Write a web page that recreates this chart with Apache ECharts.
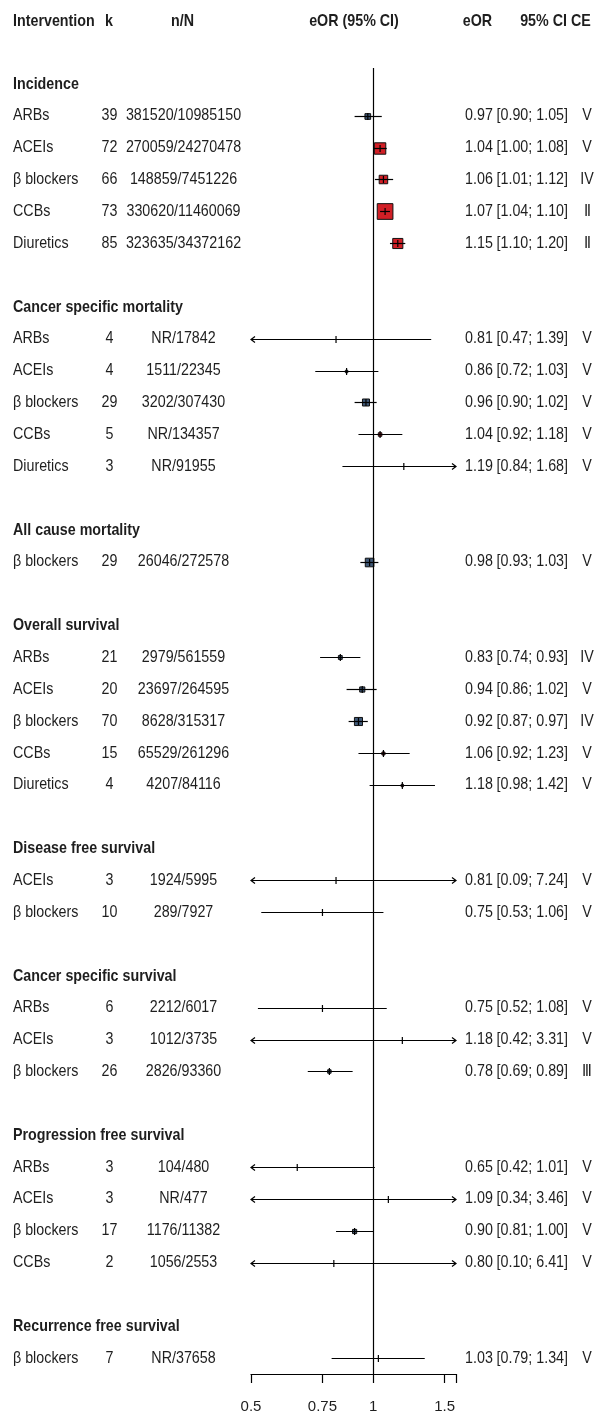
<!DOCTYPE html>
<html><head><meta charset="utf-8">
<script src="https://cdn.jsdelivr.net/npm/echarts@6/dist/echarts.min.js"></script>
<style>html,body{margin:0;padding:0;background:#fff}#c{width:597px;height:1414px}</style>
</head><body><div id="c"></div>
<script>
// ---------------- data ----------------
const headerLabels = ['Intervention', 'k', 'n/N', 'eOR (95% CI)', 'eOR', '95% CI', 'CE'];
const groupNames = ['Incidence', 'Cancer specific mortality', 'All cause mortality', 'Overall survival',
  'Disease free survival', 'Cancer specific survival', 'Progression free survival', 'Recurrence free survival'];
const groupOf = [0,0,0,0,0, 1,1,1,1,1, 2, 3,3,3,3,3, 4,4, 5,5,5, 6,6,6,6, 7];
const interventions = ['ARBs','ACEIs','β blockers','CCBs','Diuretics',
  'ARBs','ACEIs','β blockers','CCBs','Diuretics',
  'β blockers',
  'ARBs','ACEIs','β blockers','CCBs','Diuretics',
  'ACEIs','β blockers',
  'ARBs','ACEIs','β blockers',
  'ARBs','ACEIs','β blockers','CCBs',
  'β blockers'];
const kValues = [39,72,66,73,85, 4,4,29,5,3, 29, 21,20,70,15,4, 3,10, 6,3,26, 3,3,17,2, 7];
const nN = ['381520/10985150','270059/24270478','148859/7451226','330620/11460069','323635/34372162',
  'NR/17842','1511/22345','3202/307430','NR/134357','NR/91955',
  '26046/272578',
  '2979/561559','23697/264595','8628/315317','65529/261296','4207/84116',
  '1924/5995','289/7927',
  '2212/6017','1012/3735','2826/93360',
  '104/480','NR/477','1176/11382','1056/2553',
  'NR/37658'];
const eOR = [0.97,1.04,1.06,1.07,1.15, 0.81,0.86,0.96,1.04,1.19, 0.98, 0.83,0.94,0.92,1.06,1.18, 0.81,0.75, 0.75,1.18,0.78, 0.65,1.09,0.90,0.80, 1.03];
const ciLower = [0.90,1.00,1.01,1.04,1.10, 0.47,0.72,0.90,0.92,0.84, 0.93, 0.74,0.86,0.87,0.92,0.98, 0.09,0.53, 0.52,0.42,0.69, 0.42,0.34,0.81,0.10, 0.79];
const ciUpper = [1.05,1.08,1.12,1.10,1.20, 1.39,1.03,1.02,1.18,1.68, 1.03, 0.93,1.02,0.97,1.23,1.42, 7.24,1.06, 1.08,3.31,0.89, 1.01,3.46,1.00,6.41, 1.34];
const ce = ['V','V','IV','Ⅱ','Ⅱ', 'V','V','V','V','V', 'V', 'IV','V','IV','V','V', 'V','V', 'V','V','Ⅲ', 'V','V','V','V', 'V'];
const tickValues = [0.5, 0.75, 1, 1.5, 1.6];
const tickLabels = [0.5, 0.75, 1, 1.5];
const xMin = 0.5, xMax = 1.6;

// ---------------- layout / style ----------------
const FONT = "'Liberation Sans', Arial, sans-serif";
const FS = 17;
const SX = 0.84;
const TXT = '#1e1e1e';
const RED = '#d11f26';
const BLUE = '#3f5877';
const LW = 1.2;

// build row list
const rows = [];
const rowOfItem = [];
let lastG = -1;
for (let i = 0; i < eOR.length; i++) {
  if (groupOf[i] !== lastG) {
    if (lastG !== -1) rows.push({kind: 'blank'});
    rows.push({kind: 'head', idx: groupOf[i]});
    lastG = groupOf[i];
  }
  rowOfItem.push(rows.length);
  rows.push({kind: 'item', idx: i});
}
const nRows = rows.length;

const forestData = eOR.map((v, i) => [v, rowOfItem[i], ciLower[i], ciUpper[i], i]);
const textData = [[1, -2, -1]].concat(rows.map((r, j) => [1, j, j]));

function txt(x, y, s, align, bold) {
  return {type: 'text', x: x, y: y, scaleX: SX, silent: true,
    style: {text: s, fill: TXT, align: align, verticalAlign: 'middle',
      font: (bold ? 'bold ' : '') + FS + 'px ' + FONT}};
}

function renderText(params, api) {
  const j = api.value(2);
  const row = api.value(1);
  const y = api.coord([1, row])[1];
  const ch = [];
  if (j < 0) {
    const yh = y + 1.5;
    ch.push(txt(13, yh, headerLabels[0], 'left', true));
    ch.push(txt(109, yh, headerLabels[1], 'center', true));
    ch.push(txt(182.5, yh, headerLabels[2], 'center', true));
    ch.push(txt(354, yh, headerLabels[3], 'center', true));
    ch.push(txt(477.5, yh, headerLabels[4], 'center', true));
    ch.push(txt(567, yh, headerLabels[5], 'right', true));
    ch.push(txt(571, yh, headerLabels[6], 'left', true));
  } else {
    const r = rows[j];
    if (r.kind === 'head') {
      ch.push(txt(13, y, groupNames[r.idx], 'left', true));
    } else if (r.kind === 'item') {
      const i = r.idx;
      ch.push(txt(13, y, interventions[i], 'left', false));
      ch.push(txt(109.5, y, String(kValues[i]), 'center', false));
      ch.push(txt(183.5, y, nN[i], 'center', false));
      ch.push(txt(479, y, eOR[i].toFixed(2), 'center', false));
      ch.push(txt(568, y, '[' + ciLower[i].toFixed(2) + '; ' + ciUpper[i].toFixed(2) + ']', 'right', false));
      ch.push(txt(587, y, ce[i], 'center', false));
    }
  }
  return {type: 'group', children: ch};
}

function renderForest(params, api) {
  const est = api.value(0), row = api.value(1), lo = api.value(2), hi = api.value(3);
  const y = Math.round(api.coord([1, row])[1]) + 0.5;
  const loC = Math.max(lo, xMin), hiC = Math.min(hi, xMax);
  const x0 = api.coord([loC, row])[0], x1 = api.coord([hiC, row])[0];
  const xe = api.coord([est, row])[0];
  const size = 0.88 / Math.log(hi / lo);
  const ch = [];
  if (size >= 2) {
    ch.push({type: 'rect', shape: {x: xe - size / 2, y: y - size / 2, width: size, height: size},
      style: {fill: est < 1 ? BLUE : RED, stroke: '#111', lineWidth: 1}});
  }
  ch.push({type: 'line', shape: {x1: x0, y1: y, x2: x1, y2: y}, style: {stroke: '#000', lineWidth: LW}});
  ch.push({type: 'line', shape: {x1: xe, y1: y - 3.5, x2: xe, y2: y + 3.5}, style: {stroke: '#000', lineWidth: LW}});
  if (lo < xMin) {
    ch.push({type: 'polyline', shape: {points: [[x0 + 4, y - 3], [x0, y], [x0 + 4, y + 3]]},
      style: {stroke: '#000', lineWidth: LW, fill: null}});
  }
  if (hi > xMax) {
    ch.push({type: 'polyline', shape: {points: [[x1 - 4, y - 3], [x1, y], [x1 - 4, y + 3]]},
      style: {stroke: '#000', lineWidth: LW, fill: null}});
  }
  return {type: 'group', children: ch};
}

const chart = echarts.init(document.getElementById('c'), null, {renderer: 'canvas'});
chart.setOption({
  animation: false,
  backgroundColor: '#fff',
  grid: {left: 251, right: 141, top: 68, bottom: 40},
  xAxis: {
    type: 'log', logBase: 10, min: xMin, max: xMax,
    axisLine: {show: true, onZero: false, lineStyle: {color: '#000', width: LW}},
    axisTick: {show: true, length: 9, customValues: tickValues, lineStyle: {color: '#000', width: LW}},
    axisLabel: {show: true, customValues: tickLabels, margin: 25, color: TXT, fontSize: 15, fontFamily: FONT,
      formatter: v => String(Math.round(v * 100) / 100)},
    splitLine: {show: false}, minorTick: {show: false}
  },
  yAxis: {type: 'value', inverse: true, min: -0.5, max: nRows - 0.5, show: false},
  series: [
    {type: 'custom', name: 'table', data: textData, encode: {x: 0, y: 1}, renderItem: renderText, clip: false, silent: true, z: 3},
    {type: 'custom', name: 'forest', data: forestData, encode: {x: 0, y: 1}, renderItem: renderForest, clip: false, silent: true, z: 4,
      markLine: {silent: true, symbol: ['none', 'none'], label: {show: false},
        lineStyle: {color: '#000', width: LW, type: 'solid'}, data: [{xAxis: 1}]}}
  ]
});
</script>
</body></html>
